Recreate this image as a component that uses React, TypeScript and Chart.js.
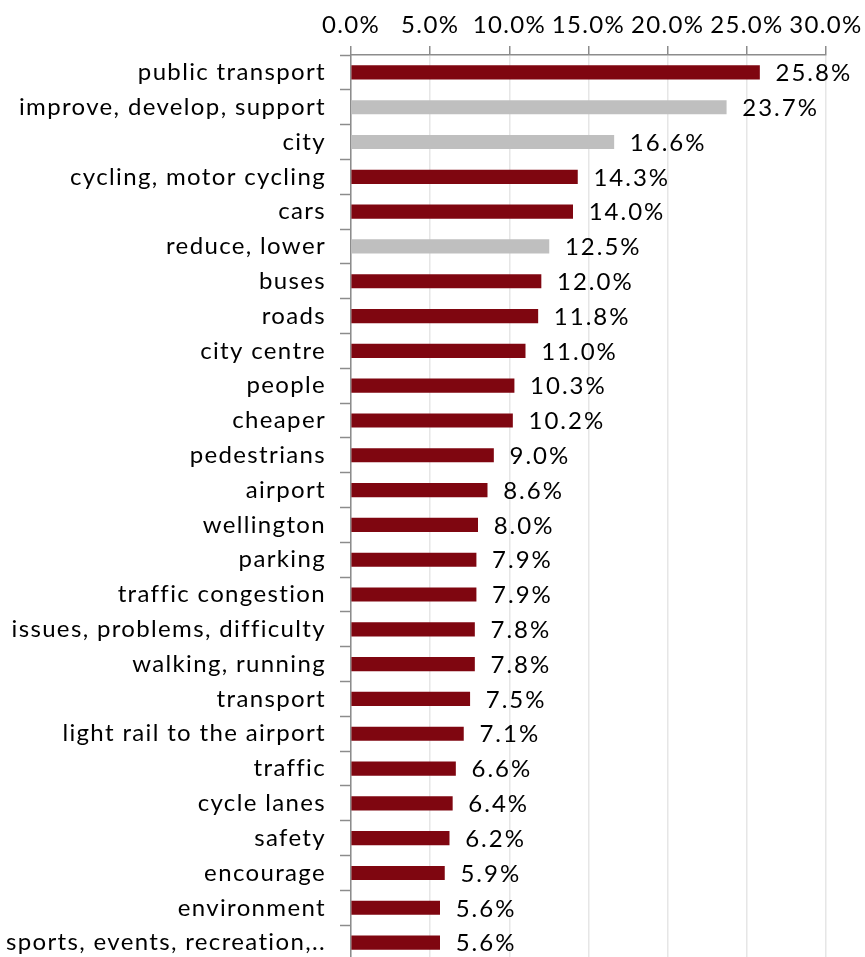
import React, { useEffect, useRef } from "react";
import { Chart, registerables } from "chart.js";

Chart.register(...registerables);

const categories: string[] = [
  "public transport",
  "improve, develop, support",
  "city",
  "cycling, motor cycling",
  "cars",
  "reduce, lower",
  "buses",
  "roads",
  "city centre",
  "people",
  "cheaper",
  "pedestrians",
  "airport",
  "wellington",
  "parking",
  "traffic congestion",
  "issues, problems, difficulty",
  "walking, running",
  "transport",
  "light rail to the airport",
  "traffic",
  "cycle lanes",
  "safety",
  "encourage",
  "environment",
  "sports, events, recreation,..",
];

const values: number[] = [
  25.8, 23.7, 16.6, 14.3, 14.0, 12.5, 12.0, 11.8, 11.0, 10.3, 10.2, 9.0, 8.6,
  8.0, 7.9, 7.9, 7.8, 7.8, 7.5, 7.1, 6.6, 6.4, 6.2, 5.9, 5.6, 5.6,
];

const greyCategories: string[] = ["improve, develop, support", "city", "reduce, lower"];

const xTicks: number[] = [0, 5, 10, 15, 20, 25, 30];

const RED = "#7f0610";
const GREY = "#bfbfbf";
const FONT = "Lato";
const SPACING = "1.35px";

const letterSpacingPlugin = {
  id: "letterSpacing",
  beforeUpdate(chart: any) {
    chart.ctx.letterSpacing = SPACING;
  },
  beforeDraw(chart: any) {
    chart.ctx.letterSpacing = SPACING;
  },
};

const dataLabels = {
  id: "dataLabels",
  afterDatasetsDraw(chart: any) {
    const ctx = chart.ctx;
    const meta = chart.getDatasetMeta(0);
    ctx.save();
    ctx.letterSpacing = "2px";
    ctx.font = `24px ${FONT}`;
    ctx.fillStyle = "#000";
    ctx.textAlign = "left";
    ctx.textBaseline = "middle";
    meta.data.forEach((el: any, i: number) => {
      ctx.fillText(values[i].toFixed(1) + "%", el.x + 16, el.y + 1);
    });
    ctx.restore();
  },
};

export default function App() {
  const ref = useRef<HTMLCanvasElement | null>(null);
  useEffect(() => {
    if (!ref.current) return;
    const chart = new Chart(ref.current, {
      type: "bar",
      data: {
        labels: categories,
        datasets: [
          {
            data: values,
            backgroundColor: categories.map((c) => (greyCategories.includes(c) ? GREY : RED)),
            barThickness: 13.5,
          },
        ],
      },
      options: {
        indexAxis: "y",
        animation: false,
        responsive: false,
        maintainAspectRatio: false,
        layout: { padding: { left: 0, right: 39, top: 0, bottom: 0 } },
        plugins: { legend: { display: false }, tooltip: { enabled: false } },
        scales: {
          x: {
            position: "top",
            min: xTicks[0],
            max: xTicks[xTicks.length - 1],
            afterBuildTicks: (scale: any) => {
              scale.ticks = xTicks.map((v) => ({ value: v }));
            },
            afterFit: (scale: any) => {
              scale.height = 55;
              scale.paddingLeft = 0;
              scale.paddingRight = 0;
            },
            ticks: {
              font: { family: FONT, size: 24 },
              color: "#000",
              padding: 6,
              maxRotation: 0,
              autoSkip: false,
              callback: (v: any) => Number(v).toFixed(1) + "%",
            },
            grid: {
              color: "#e6e6e6",
              lineWidth: 1.5,
              tickLength: 9,
              tickColor: "#8c8c8c",
              tickWidth: 1.5,
            },
            border: { color: "#8c8c8c", width: 1.5 },
          },
          y: {
            afterFit: (scale: any) => {
              scale.width = 351;
              scale.paddingTop = 0;
              scale.paddingBottom = 0;
            },
            ticks: {
              font: { family: FONT, size: 24 },
              color: "#000",
              padding: 14,
              autoSkip: false,
            },
            grid: {
              offset: true,
              drawOnChartArea: false,
              tickLength: 11,
              tickColor: "#8c8c8c",
              tickWidth: 1.5,
            },
            border: { color: "#8c8c8c", width: 1.5 },
          },
        },
      },
      plugins: [letterSpacingPlugin, dataLabels],
    });
    return () => chart.destroy();
  }, []);
  return (
    <div style={{ position: "absolute", left: 0, top: 0, width: 865, height: 960 }}>
      <canvas ref={ref} width={865} height={960} style={{ width: 865, height: 960 }} />
    </div>
  );
}
